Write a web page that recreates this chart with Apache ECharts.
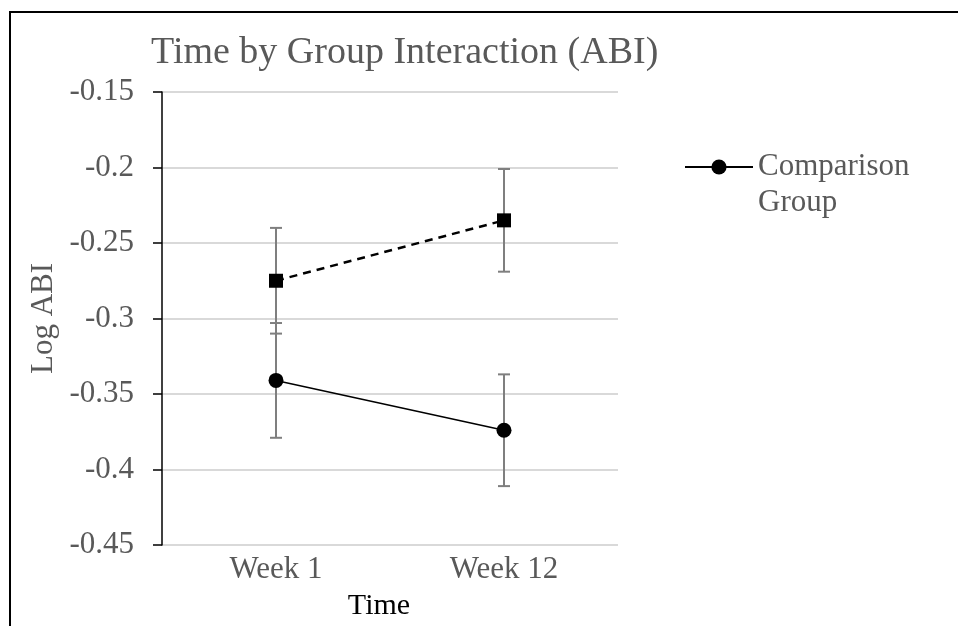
<!DOCTYPE html>
<html>
<head>
<meta charset="utf-8">
<script src="https://cdn.jsdelivr.net/npm/echarts@6/dist/echarts.min.js"></script>
<style>html,body{margin:0;padding:0;background:#fff;}#c{width:958px;height:626px;}</style>
</head>
<body>
<div id="c"></div>
<script>
var categories = ['Week 1', 'Week 12'];
var comparisonMeans = [-0.341, -0.374];
var comparisonErr = [0.038, 0.037];
var otherMeans = [-0.275, -0.235];
var otherErr = [0.035, 0.034];
var yTicks = {min: -0.45, max: -0.15, interval: 0.05};

var FONT = '"Liberation Serif", "Times New Roman", serif';
var GRAY = '#595959';

function errData(means, errs) {
  return means.map(function (m, i) { return [i, m - errs[i], m + errs[i]]; });
}

function renderErr(params, api) {
  var lo = api.coord([api.value(0), api.value(1)]);
  var hi = api.coord([api.value(0), api.value(2)]);
  var cap = 6;
  var st = {stroke: '#7f7f7f', lineWidth: 2};
  return {
    type: 'group',
    children: [
      {type: 'line', shape: {x1: lo[0], y1: lo[1], x2: hi[0], y2: hi[1]}, style: st},
      {type: 'line', shape: {x1: lo[0] - cap, y1: lo[1], x2: lo[0] + cap, y2: lo[1]}, style: st},
      {type: 'line', shape: {x1: hi[0] - cap, y1: hi[1], x2: hi[0] + cap, y2: hi[1]}, style: st}
    ]
  };
}

var chart = echarts.init(document.getElementById('c'), null, {renderer: 'canvas'});
chart.setOption({
  animation: false,
  backgroundColor: '#fff',
  title: {
    text: 'Time by Group Interaction (ABI)',
    left: 146, top: 29,
    textStyle: {fontFamily: FONT, fontSize: 38, fontWeight: 'normal', color: GRAY}
  },
  legend: {
    data: ['Comparison Group'],
    orient: 'vertical',
    left: 679, top: 108,
    itemWidth: 68, itemHeight: 19, itemGap: 0,
    formatter: function () { return '\nComparison\nGroup'; },
    textStyle: {fontFamily: FONT, fontSize: 31, color: GRAY, lineHeight: 36}
  },
  graphic: [{
    type: 'rect', shape: {x: 10, y: 12, width: 980, height: 700},
    style: {fill: 'none', stroke: '#000', lineWidth: 2}, z: 100, silent: true
  }],
  grid: {left: 162, right: 340, top: 92, bottom: 81},
  xAxis: {
    type: 'category',
    data: categories,
    boundaryGap: true,
    axisLine: {show: false},
    axisTick: {show: false},
    axisLabel: {fontFamily: FONT, fontSize: 31, color: GRAY, margin: 9},
    name: 'Time', nameLocation: 'middle', nameGap: 46,
    nameTextStyle: {fontFamily: FONT, fontSize: 30, color: '#000', padding: [0, 22, 0, 0]}
  },
  yAxis: {
    type: 'value',
    min: yTicks.min, max: yTicks.max, interval: yTicks.interval,
    axisLine: {show: true, lineStyle: {color: '#000', width: 1.5}},
    axisTick: {show: true, length: 9, lineStyle: {color: '#000', width: 1.5}},
    splitLine: {lineStyle: {color: '#d9d9d9', width: 2}},
    axisLabel: {fontFamily: FONT, fontSize: 31, color: GRAY, margin: 28},
    name: 'Log ABI', nameLocation: 'middle', nameGap: 103,
    nameTextStyle: {fontFamily: FONT, fontSize: 31, color: GRAY}
  },
  series: [
    {
      type: 'custom', name: 'errComparison', renderItem: renderErr,
      data: errData(comparisonMeans, comparisonErr), z: 1, silent: true,
      encode: {x: 0, y: [1, 2]}
    },
    {
      type: 'custom', name: 'errOther', renderItem: renderErr,
      data: errData(otherMeans, otherErr), z: 1, silent: true,
      encode: {x: 0, y: [1, 2]}
    },
    {
      type: 'line', name: 'Comparison Group', data: comparisonMeans,
      symbol: 'circle', symbolSize: 15, z: 3,
      lineStyle: {color: '#000', width: 1.5},
      itemStyle: {color: '#000'}
    },
    {
      type: 'line', name: 'Intervention Group', data: otherMeans,
      symbol: 'rect', symbolSize: 14, z: 3,
      lineStyle: {color: '#000', width: 2.5, type: [8, 6]},
      itemStyle: {color: '#000'}
    }
  ]
});
</script>
</body>
</html>
